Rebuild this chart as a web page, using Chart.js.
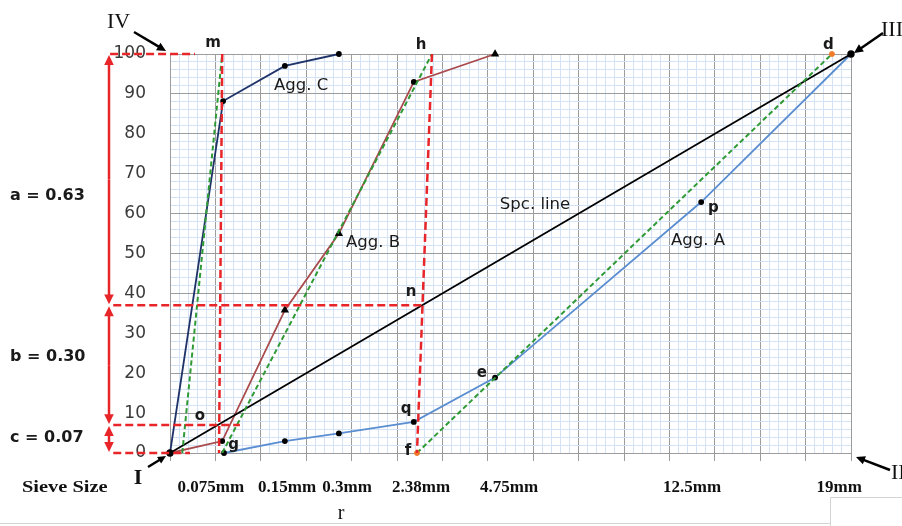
<!DOCTYPE html>
<html>
<head>
<meta charset="utf-8">
<script src="https://cdn.jsdelivr.net/npm/chart.js@4.4.1/dist/chart.umd.min.js"></script>
<style>
  html, body { margin: 0; padding: 0; background: #fff; }
  #chart { display: block; }
</style>
</head>
<body>
<canvas id="chart" width="902" height="526"></canvas>
<script>
// sieve sizes written under the x axis (x in grid columns, 0..15)
const sieveLabels = [`0.075mm`, `0.15mm`, `0.3mm`, `2.38mm`, `4.75mm`, `12.5mm`, `19mm`];
const sievePos = [0.9, 2.58, 3.9, 5.53, 7.47, 11.5, 14.74];

// specification line I -> III
const spcX = [0, 15];
const spcY = [0, 100];

const aggAX = [1.19, 2.53, 3.72, 5.37, 7.16, 11.7, 15];
const aggAY = [0, 3, 4.9, 7.8, 18.9, 62.9, 100];

const aggBX = [0, 1.15, 2.53, 3.72, 5.37, 7.16];
const aggBY = [0, 3, 35.8, 55, 93, 100];

const aggCX = [0, 1.17, 2.53, 3.72];
const aggCY = [0, 88.2, 97, 100];

// proportions a, b, c
const ratioNames = [`a`, `b`, `c`];
const ratios = [0.63, 0.30, 0.07];
const ratioLabelY = [64.5, 24, 3.8];

// green construction lines (from -> to)
const greenFromX = [0.27, 1.15, 5.44];
const greenToX = [1.15, 5.77, 14.58];

// points d and f
const orangeX = [14.58, 5.44];
const orangeY = [100, 0];

// levels 100, 37, 7, 0 from the proportions
const levels = [100];
ratios.forEach((r) => levels.push(Math.round((levels[levels.length - 1] - r * 100) * 100) / 100));

const redLines = [
  [[-1.32, levels[0]], [0.55, levels[0]]],
  [[1.15, levels[0]], [1.08, 0]],
  [[-1.25, levels[1]], [5.55, levels[1]]],
  [[5.77, levels[0]], [5.44, 0]],
  [[-1.25, levels[2]], [1.54, levels[2]]],
  [[-1.25, levels[3]], [0.44, levels[3]]],
];

const notes = [
  {t: `m`, x: 0.95, y: 102.8, b: true},
  {t: `h`, x: 5.53, y: 102.3, b: true},
  {t: `d`, x: 14.5, y: 102.3, b: true},
  {t: `n`, x: 5.31, y: 40.3, b: true},
  {t: `o`, x: 0.66, y: 9.2, b: true},
  {t: `g`, x: 1.4, y: 1.9, b: true},
  {t: `q`, x: 5.2, y: 10.9, b: true},
  {t: `f`, x: 5.24, y: 0.4, b: true},
  {t: `e`, x: 6.87, y: 19.9, b: true},
  {t: `p`, x: 11.97, y: 61.3, b: true},
  {t: `Agg. C`, x: 2.89, y: 92},
  {t: `Agg. B`, x: 4.47, y: 52.6},
  {t: `Spc. line`, x: 8.04, y: 62.2},
  {t: `Agg. A`, x: 11.63, y: 53.1},
];

const toPts = (xs, ys) => xs.map((x, i) => ({x: x, y: ys[i]}));

const RED = `#e8262a`;
const GREEN = `#2f9a35`;

const datasets = [];

redLines.forEach((seg) => {
  datasets.push({
    data: seg.map((p) => ({x: p[0], y: p[1]})),
    borderColor: RED, borderWidth: 2.5, borderDash: [8, 4],
    pointRadius: 0, clip: false, order: 0,
  });
});

greenFromX.forEach((x0, i) => {
  datasets.push({
    data: [{x: x0, y: 0}, {x: greenToX[i], y: 100}],
    borderColor: GREEN, borderWidth: 2, borderDash: [5, 3],
    pointRadius: 0, order: 1,
  });
});

datasets.push({
  data: toPts(orangeX, orangeY),
  showLine: false, pointRadius: 2.5, pointBackgroundColor: `#f07c2a`, pointBorderColor: `#f07c2a`,
  clip: false, order: 0,
});

datasets.push({
  data: toPts(spcX, spcY),
  borderColor: `#000`, borderWidth: 1.8, pointRadius: 2.8,
  pointBackgroundColor: `#000`, pointBorderColor: `#000`, clip: false, order: 2,
});
datasets.push({
  data: toPts(aggAX, aggAY),
  borderColor: `#5b8ed0`, borderWidth: 1.8, pointRadius: 2,
  pointBackgroundColor: `#000`, pointBorderColor: `#000`, clip: false, order: 2,
});
datasets.push({
  data: toPts(aggBX, aggBY),
  borderColor: `#a94a4c`, borderWidth: 1.8,
  pointStyle: [`circle`, `circle`, `triangle`, `triangle`, `circle`, `triangle`],
  pointRadius: [0, 2, 3, 3, 2, 3],
  pointBackgroundColor: `#000`, pointBorderColor: `#000`, clip: false, order: 2,
});
datasets.push({
  data: toPts(aggCX, aggCY),
  borderColor: `#1f3368`, borderWidth: 1.8, pointRadius: [0, 2, 2, 2],
  pointBackgroundColor: `#000`, pointBorderColor: `#000`, clip: false, order: 2,
});

const arrow = (ctx, x1, y1, x2, y2, color, w, head) => {
  const ang = Math.atan2(y2 - y1, x2 - x1);
  ctx.save();
  ctx.strokeStyle = color;
  ctx.fillStyle = color;
  ctx.lineWidth = w;
  ctx.beginPath();
  ctx.moveTo(x1, y1);
  ctx.lineTo(x2 - Math.cos(ang) * head * 0.8, y2 - Math.sin(ang) * head * 0.8);
  ctx.stroke();
  ctx.beginPath();
  ctx.moveTo(x2, y2);
  ctx.lineTo(x2 - head * Math.cos(ang - 0.45), y2 - head * Math.sin(ang - 0.45));
  ctx.lineTo(x2 - head * Math.cos(ang + 0.45), y2 - head * Math.sin(ang + 0.45));
  ctx.closePath();
  ctx.fill();
  ctx.restore();
};

const decorations = {
  id: `decorations`,
  beforeDraw(chart) {
    const ctx = chart.ctx;
    ctx.save();
    ctx.strokeStyle = `#d4d4d4`;
    ctx.lineWidth = 1;
    ctx.beginPath();
    ctx.moveTo(0, 523.5); ctx.lineTo(830, 523.5);
    ctx.moveTo(830.5, 526); ctx.lineTo(830.5, 497.5); ctx.lineTo(902, 497.5);
    ctx.stroke();
    ctx.restore();
  },
  afterDatasetsDraw(chart) {
    const ctx = chart.ctx;
    const xs = chart.scales.x;
    const ys = chart.scales.y;
    const ca = chart.chartArea;

    // letters and series names
    ctx.save();
    ctx.fillStyle = `#1a1a1a`;
    ctx.textAlign = `center`;
    ctx.textBaseline = `middle`;
    notes.forEach((n) => {
      ctx.font = n.b ? `bold 15px "DejaVu Sans"` : `16.5px "DejaVu Sans"`;
      ctx.fillText(n.t, xs.getPixelForValue(n.x), ys.getPixelForValue(n.y));
    });

    // a, b, c bands with red double arrows
    const ax = ca.left - 61;
    ratios.forEach((r, i) => {
      const top = ys.getPixelForValue(levels[i]) + 1;
      const bot = ys.getPixelForValue(levels[i + 1]) - 1;
      const mid = (top + bot) / 2;
      arrow(ctx, ax, mid, ax, top, RED, 2.5, 11);
      arrow(ctx, ax, mid, ax, bot, RED, 2.5, 11);
      ctx.font = `bold 16px "DejaVu Sans"`;
      ctx.textAlign = `left`;
      ctx.fillStyle = `#1a1a1a`;
      ctx.fillText(`${ratioNames[i]} = ${r.toFixed(2)}`, 10, ys.getPixelForValue(ratioLabelY[i]));
    });

    // corner markers I..IV
    arrow(ctx, ca.left - 36, ca.top - 22, ca.left - 4, ca.top - 3, `#000`, 2.5, 10);
    arrow(ctx, ca.right + 32, ca.top - 21, ca.right + 3, ca.top - 1, `#000`, 2.5, 10);
    arrow(ctx, ca.right + 39, ca.bottom + 17, ca.right + 5, ca.bottom + 4, `#000`, 2.5, 10);
    arrow(ctx, ca.left - 22, ca.bottom + 14, ca.left - 4, ca.bottom + 3, `#000`, 2.5, 9);

    ctx.fillStyle = `#111`;
    ctx.textAlign = `left`;
    ctx.font = `22px "Liberation Serif"`;
    ctx.fillText(`IV`, ca.left - 63, ca.top - 32);
    ctx.fillText(`III`, ca.right + 30, ca.top - 24);
    ctx.fillText(`II`, ca.right + 40, ca.bottom + 20);
    ctx.font = `bold 22px "Liberation Serif"`;
    ctx.textAlign = `center`;
    ctx.fillText(`I`, ca.left - 32, ca.bottom + 25);

    ctx.font = `20px "Liberation Serif"`;
    ctx.fillText(`r`, 341, 514);

    ctx.save();
    ctx.translate(22, ca.bottom + 35);
    ctx.scale(1.2, 1);
    ctx.textAlign = `left`;
    ctx.font = `bold 17px "Liberation Serif"`;
    ctx.fillText(`Sieve Size`, 0, 0);
    ctx.restore();

    ctx.restore();
  },
};

new Chart(document.getElementById(`chart`), {
  type: `line`,
  data: {datasets: datasets},
  plugins: [decorations],
  options: {
    responsive: false,
    animation: false,
    devicePixelRatio: 1,
    layout: {padding: {top: 54, right: 51, left: 0, bottom: 0}},
    plugins: {legend: {display: false}, tooltip: {enabled: false}},
    elements: {line: {tension: 0}},
    scales: {
      xMinor: {
        type: `linear`, position: `bottom`, min: 0, max: 15, z: -1,
        ticks: {display: false, stepSize: 0.2},
        grid: {color: `#d3e3f5`, drawTicks: false},
        border: {display: false},
        afterFit: (s) => { s.height = 0; },
      },
      x: {
        type: `linear`, position: `bottom`, min: 0, max: 15,
        ticks: {display: false, stepSize: 1},
        grid: {color: `#9c9c9c`, tickLength: 8},
        border: {color: `#9c9c9c`},
        afterFit: (s) => { s.height = 0; },
      },
      xLab: {
        type: `linear`, position: `bottom`, min: 0, max: 15,
        afterBuildTicks: (s) => { s.ticks = sievePos.map((v) => ({value: v})); },
        ticks: {
          autoSkip: false, maxRotation: 0, padding: 24, color: `#111`,
          font: {family: `"Liberation Serif"`, size: 17, weight: `bold`},
          callback: (v, i) => sieveLabels[i],
        },
        grid: {display: false, drawTicks: false},
        border: {display: false},
        afterFit: (s) => { s.height = 73; },
      },
      yMinor: {
        type: `linear`, position: `left`, min: 0, max: 100, z: -1,
        ticks: {display: false, stepSize: 2},
        grid: {color: `#d3e3f5`, drawTicks: false},
        border: {display: false},
        afterFit: (s) => { s.width = 0; },
      },
      y: {
        type: `linear`, position: `left`, min: 0, max: 100,
        ticks: {stepSize: 10, padding: 24, color: `#3a3a3a`, font: {family: `"DejaVu Sans"`, size: 17}},
        grid: {color: `#9c9c9c`, drawTicks: false},
        border: {color: `#9c9c9c`},
        afterFit: (s) => { s.width = 170; },
      },
    },
  },
});
</script>
</body>
</html>
